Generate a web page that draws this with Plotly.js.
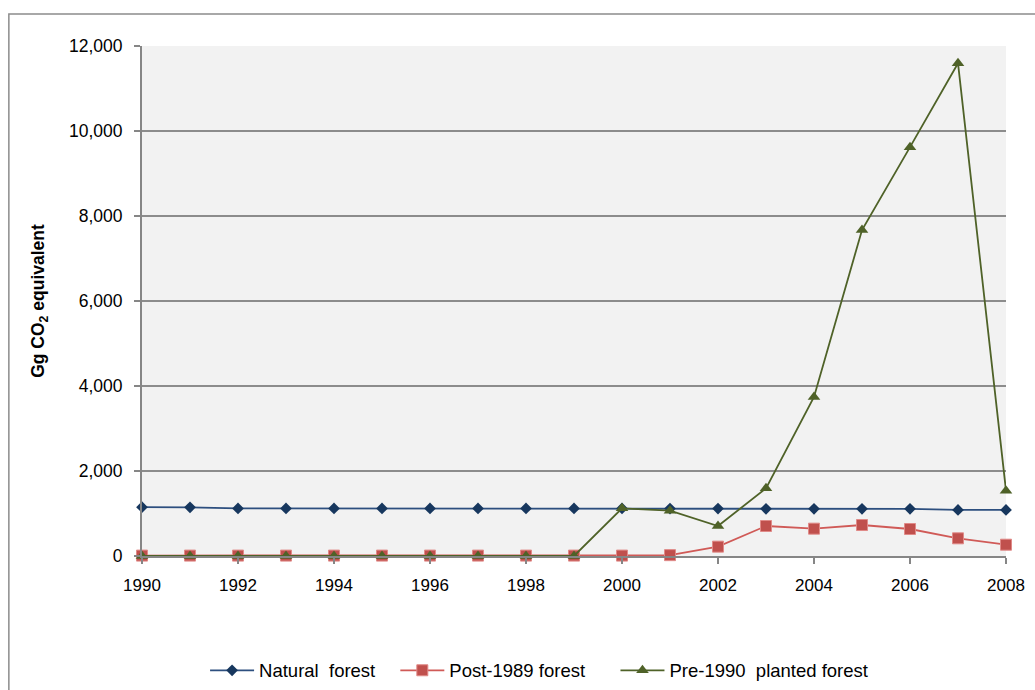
<!DOCTYPE html>
<html>
<head>
<meta charset="utf-8">
<script src="https://cdn.plot.ly/plotly-3.0.1.min.js"></script>
<style>
html,body{margin:0;padding:0;background:#fff;}
#chart{width:1035px;height:690px;}
</style>
</head>
<body>
<div id="chart"></div>
<script>
const years = [1990,1991,1992,1993,1994,1995,1996,1997,1998,1999,2000,2001,2002,2003,2004,2005,2006,2007,2008];
const naturalForest = [1150,1145,1120,1120,1120,1120,1120,1120,1120,1120,1120,1115,1115,1110,1110,1110,1110,1085,1085];
const post1989Forest = [10,10,10,10,10,10,10,10,10,10,10,20,220,706,643,729,635,416,266];
const pre1990Planted = [0,0,0,0,0,0,0,0,0,0,1122,1066,706,1592,3741,7670,9620,11595,1537];
const seriesNames = ["Natural  forest","Post-1989 forest","Pre-1990  planted forest"];
const xTickVals = [1990,1992,1994,1996,1998,2000,2002,2004,2006,2008];
const yTickVals = [0,2000,4000,6000,8000,10000,12000];

const font = "Liberation Sans, Arial, sans-serif";

const traces = [
  {x: years, y: naturalForest, name: seriesNames[0], legend: 'legend', mode: 'lines+markers', cliponaxis: false,
   line: {color: '#2d4f7f', width: 1.8},
   marker: {symbol: 'diamond', size: 9, color: '#17375e'}},
  {x: years, y: post1989Forest, name: seriesNames[1], legend: 'legend2', mode: 'lines+markers', cliponaxis: false,
   line: {color: '#d05a57', width: 1.8},
   marker: {symbol: 'square', size: 11, color: '#c0504d', line: {color: '#e08a88', width: 1}}},
  {x: years, y: pre1990Planted, name: seriesNames[2], legend: 'legend3', mode: 'lines+markers', cliponaxis: false,
   line: {color: '#4f6228', width: 1.8},
   marker: {symbol: 'triangle-up', size: 11, color: '#4f6228'}}
];

function legendAt(x) {
  return {orientation: 'h', x: x, xanchor: 'left', y: -0.225, yanchor: 'middle',
          font: {family: font, size: 18.5, color: '#000'}, itemwidth: 44, bgcolor: 'rgba(0,0,0,0)'};
}

const layout = {
  width: 1035, height: 690,
  margin: {l: 142, r: 29, t: 46, b: 134, autoexpand: false},
  paper_bgcolor: '#ffffff',
  plot_bgcolor: '#f2f2f2',
  font: {family: font, size: 17, color: '#000'},
  showlegend: true,
  legend: legendAt(0.073),
  legend2: legendAt(0.2932),
  legend3: legendAt(0.548),
  xaxis: {
    range: [1990, 2008], tickvals: xTickVals, ticktext: xTickVals.map(String), automargin: false,
    showgrid: false, zeroline: false, showline: true, linecolor: '#868686', linewidth: 2,
    ticks: 'outside', ticklen: 6, tickcolor: '#868686', tickwidth: 2, ticklabelstandoff: 7,
    tickfont: {family: font, size: 17, color: '#000'}
  },
  yaxis: {
    range: [0, 12000], tickvals: yTickVals, tickformat: ',d', automargin: false,
    showgrid: true, gridcolor: '#8c8c8c', gridwidth: 1.5, zeroline: false,
    showline: true, linecolor: '#868686', linewidth: 2,
    ticks: 'outside', ticklen: 6, tickcolor: '#868686', tickwidth: 2, ticklabelstandoff: 8,
    tickfont: {family: font, size: 17.5, color: '#000'},
    title: {text: '<b>Gg CO<sub>2</sub> equivalent</b>', font: {family: font, size: 17.5, color: '#000'}, standoff: 20}
  },
  shapes: [
    {type: 'rect', xref: 'paper', yref: 'paper', x0: -0.1541, x1: 1.2, y0: -0.4, y1: 1.0627,
     line: {color: '#8c8c8c', width: 1.5}, fillcolor: 'rgba(0,0,0,0)', layer: 'below'}
  ]
};

Plotly.newPlot('chart', traces, layout, {displayModeBar: false, staticPlot: true});
</script>
</body>
</html>
